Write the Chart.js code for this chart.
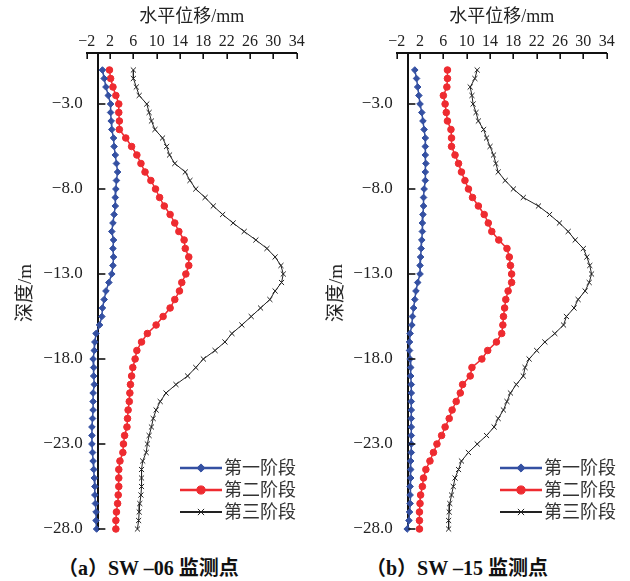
<!DOCTYPE html>
<html><head><meta charset="utf-8">
<script src="https://cdn.jsdelivr.net/npm/chart.js@4.4.0/dist/chart.umd.min.js"></script>
<style>
html,body{margin:0;padding:0;background:#fff;}
#wrap{position:relative;width:630px;height:581px;overflow:hidden;background:#fff;}
.cv{position:absolute;top:0;width:315px;height:545px;}
.ytitle{position:absolute;font-size:19px;font-family:"Liberation Serif","Noto Sans CJK SC",serif;color:#222;transform:translate(-50%,-50%) rotate(-90deg);white-space:nowrap;line-height:20px;}
.cap{position:absolute;top:557px;font-size:20px;font-weight:bold;font-family:"Liberation Serif","Noto Sans CJK SC",serif;color:#111;white-space:nowrap;line-height:22px;}
</style></head><body>
<div id="wrap">
<div class="cv" style="left:0"><canvas id="c1" width="315" height="545"></canvas></div>
<div class="cv" style="left:315px"><canvas id="c2" width="315" height="545"></canvas></div>
<div class="ytitle" style="left:25px;top:293px">深度/m</div>
<div class="ytitle" style="left:336px;top:293px">深度/m</div>
<div class="cap" style="left:58px">（a）SW –06 监测点</div>
<div class="cap" style="left:366px">（b）SW –15 监测点</div>
</div>
<script>
const DEPTH = [-1.0,-1.5,-2.0,-2.5,-3.0,-3.5,-4.0,-4.5,-5.0,-5.5,-6.0,-6.5,-7.0,-7.5,-8.0,-8.5,-9.0,-9.5,-10.0,-10.5,-11.0,-11.5,-12.0,-12.5,-13.0,-13.5,-14.0,-14.5,-15.0,-15.5,-16.0,-16.5,-17.0,-17.5,-18.0,-18.5,-19.0,-19.5,-20.0,-20.5,-21.0,-21.5,-22.0,-22.5,-23.0,-23.5,-24.0,-24.5,-25.0,-25.5,-26.0,-26.5,-27.0,-27.5,-28.0];

const SERIES_NAMES = ['第一阶段','第二阶段','第三阶段'];

// SW-06
const SW06_STAGE1 = [0.7,1.0,1.3,1.7,2.1,2.1,2.2,2.3,2.6,2.7, 2.9,3.1,3.3,3.1,3.0,2.9,2.9,2.7,2.5,2.3, 2.6,2.5,2.6,2.5,2.3,1.8,1.3,1.0,0.7,0.6, 0.2,-0.4,-0.6,-0.7,-0.9,-0.8,-0.8,-0.7,-0.9,-0.9, -0.9,-1.0,-1.1,-1.1,-1.1,-1.0,-0.9,-0.8,-0.7,-0.6, -0.6,-0.5,-0.4,-0.4,-0.3];
const SW06_STAGE2 = [1.9,2.1,2.5,3.0,3.5,3.5,3.6,3.6,4.7,5.7, 6.6,7.3,8.0,9.0,9.8,10.5,11.3,12.3,13.1,13.8, 14.7,14.9,15.5,15.5,15.0,14.3,13.9,13.1,12.3,11.1, 9.9,8.4,7.4,6.6,6.3,5.9,5.7,5.5,5.4,5.3, 5.1,5.0,4.9,4.5,4.3,4.2,3.7,3.5,3.5,3.5, 3.4,3.3,3.1,3.0,3.0];
const SW06_STAGE3 = [6.0,6.0,6.5,7.0,8.3,8.7,9.1,9.7,11.0,11.7, 12.2,13.1,14.9,15.7,16.7,18.3,19.7,21.3,23.1,25.0, 27.0,28.9,30.3,31.3,31.7,31.4,30.3,29.4,27.8,26.2, 24.6,22.9,21.7,20.0,18.0,16.7,15.3,13.3,11.6,10.6, 9.9,9.4,9.1,8.7,8.4,8.2,7.6,7.4,7.4,7.4, 7.3,7.1,7.0,6.9,6.7];

// SW-15
const SW15_STAGE1 = [1.1,1.4,1.6,1.8,2.0,2.3,2.5,2.7,2.9,2.9, 2.9,3.0,2.9,2.9,2.7,2.6,2.6,2.5,2.4,2.4, 2.3,2.2,2.1,2.0,2.0,1.6,1.3,1.1,0.9,0.7, 0.6,0.3,0.2,0.2,0.3,0.4,0.4,0.5,0.5,0.5, 0.5,0.5,0.5,0.5,0.5,0.5,0.4,0.4,0.4,0.3, 0.3,0.3,0.2,0.1,-0.2];
const SW15_STAGE2 = [6.7,6.7,6.6,6.0,6.3,6.5,6.7,7.3,7.4,7.4, 8.0,8.6,9.1,9.7,10.3,11.0,12.0,13.0,13.7,14.3, 15.5,16.9,17.3,17.5,17.7,17.7,17.1,16.7,16.5,16.3, 16.2,16.0,15.1,13.6,12.6,10.9,10.6,9.3,8.9,8.2, 7.5,7.0,6.3,5.7,4.9,4.3,3.7,3.0,2.6,2.4, 2.1,2.0,1.9,1.9,1.9];
const SW15_STAGE3 = [11.8,11.4,10.6,10.9,11.1,11.6,12.0,12.9,13.4,14.0, 14.6,15.0,15.4,16.6,18.0,19.7,22.3,24.2,25.9,27.4, 28.6,30.0,30.6,31.1,31.4,31.0,30.3,29.1,28.4,27.1, 26.6,25.1,23.4,22.0,20.7,20.0,19.7,18.5,17.5,16.9, 16.3,15.4,14.7,13.4,11.8,10.3,9.1,8.6,8.0,7.7, 7.4,7.1,7.0,6.9,6.9];

const X_TICKS = [-2,0,2,6,10,14,18,22,26,30,34];
const Y_TICKS = [-3,-8,-13,-18,-23,-28];
const X_TITLE = '水平位移/mm';

const BLUE = '#3450a2';
const RED = '#ee2b30';
const BLACK = '#222222';
const MINUS = '\u2212';

function pts(vals){ return vals.map((v,i)=>({x:v, y:DEPTH[i]})); }
function fmtX(v){ return v===0 ? '' : (v<0?MINUS:'') + Math.abs(v); }
function fmtY(v){ return (v<0?MINUS:'') + Math.abs(v).toFixed(1); }

function drawMarker(ctx, style, x, y, r, color){
  ctx.save();
  ctx.fillStyle = color; ctx.strokeStyle = color; ctx.lineWidth = 1;
  ctx.beginPath();
  if (style==='rectRot'){
    ctx.moveTo(x, y-r); ctx.lineTo(x+r, y); ctx.lineTo(x, y+r); ctx.lineTo(x-r, y); ctx.closePath();
    ctx.fill(); ctx.stroke();
  } else if (style==='circle'){
    ctx.arc(x, y, r, 0, Math.PI*2); ctx.fill(); ctx.stroke();
  } else {
    const d = r*Math.SQRT1_2;
    ctx.moveTo(x-d, y-d); ctx.lineTo(x+d, y+d); ctx.moveTo(x+d, y-d); ctx.lineTo(x-d, y+d); ctx.stroke();
  }
  ctx.restore();
}

const axisDecor = {
  id: 'axisDecor',
  afterDraw(chart, args, opts){
    const ctx = chart.ctx, xs = chart.scales.x, ys = chart.scales.y, area = chart.chartArea;
    const x0 = xs.getPixelForValue(0);
    ctx.save();
    ctx.strokeStyle = '#111'; ctx.lineWidth = 1.6;
    xs.ticks.forEach(t => {
      const px = Math.round(xs.getPixelForValue(t.value))+0.2;
      ctx.beginPath(); ctx.moveTo(px, area.top); ctx.lineTo(px, area.top + 6); ctx.stroke();
    });
    ys.ticks.forEach(t => {
      const py = Math.round(ys.getPixelForValue(t.value));
      ctx.beginPath(); ctx.moveTo(x0, py); ctx.lineTo(x0 + 7, py); ctx.stroke();
    });
    // legend
    chart.data.datasets.forEach((ds, i) => {
      const y = opts.y0 + i*opts.dy;
      ctx.save();
      ctx.strokeStyle = ds.borderColor; ctx.lineWidth = opts.lw[i];
      ctx.beginPath(); ctx.moveTo(opts.x1, y); ctx.lineTo(opts.x2, y); ctx.stroke();
      ctx.restore();
      drawMarker(ctx, ds.pointStyle, (opts.x1+opts.x2)/2, y, ds.pointRadius + 0.8, ds.borderColor);
      ctx.fillStyle = '#333';
      ctx.font = '18px "Liberation Serif","Noto Sans CJK SC"';
      ctx.textBaseline = 'middle'; ctx.textAlign = 'left';
      ctx.fillText(ds.label, opts.x2 + 2, y + 1);
    });
    ctx.restore();
  }
};

function makeChart(id, s1, s2, s3, pad, leg){
  const yTicks = s => { s.ticks = Y_TICKS.map(v => ({value: v})); };
  return new Chart(document.getElementById(id), {
    type: 'scatter',
    data: { datasets: [
      {label: SERIES_NAMES[0], data: pts(s1), showLine: true, borderColor: BLUE, backgroundColor: BLUE,
       borderWidth: 1.5, pointStyle: 'rectRot', pointRadius: 3.3, pointBorderWidth: 1,
       pointBackgroundColor: BLUE, pointBorderColor: BLUE, tension: 0, clip: false},
      {label: SERIES_NAMES[1], data: pts(s2), showLine: true, borderColor: RED, backgroundColor: RED,
       borderWidth: 1.5, pointStyle: 'circle', pointRadius: 3.3, pointBorderWidth: 1,
       pointBackgroundColor: RED, pointBorderColor: RED, tension: 0, clip: false},
      {label: SERIES_NAMES[2], data: pts(s3), showLine: true, borderColor: BLACK, backgroundColor: BLACK,
       borderWidth: 1, pointStyle: 'crossRot', pointRadius: 3.6, pointBorderWidth: 1,
       pointBorderColor: BLACK, tension: 0, clip: false}
    ]},
    options: {
      responsive: false, animation: false,
      layout: { padding: pad },
      plugins: { legend: {display: false}, tooltip: {enabled: false}, axisDecor: leg },
      scales: {
        x: {
          type: 'linear', position: 'top', min: -2, max: 34,
          afterBuildTicks: s => { s.ticks = X_TICKS.map(v => ({value: v})); },
          afterFit: s => { s.height = 53; },
          grid: {display: false, drawTicks: false},
          border: {display: true, color: '#111', width: 2},
          ticks: {autoSkip: false, maxRotation: 0, padding: 2, color: '#222',
                  font: {family: '"Liberation Serif"', size: 16}, callback: v => fmtX(v)},
          title: {display: true, text: X_TITLE, color: '#222',
                  font: {family: '"Liberation Serif","Noto Sans CJK SC"', size: 18}, padding: {top: 6, bottom: 0}}
        },
        y: {
          type: 'linear', position: {x: 0}, min: -28, max: 0,
          afterBuildTicks: yTicks,
          grid: {display: false, drawTicks: false},
          border: {display: true, color: '#111', width: 2},
          ticks: {display: false}
        },
        yLabels: {
          type: 'linear', position: 'left', min: -28, max: 0,
          afterBuildTicks: yTicks,
          afterFit: s => { s.width = 60; },
          grid: {display: false, drawTicks: false},
          border: {display: false},
          ticks: {autoSkip: false, padding: 4, color: '#222',
                  font: {family: '"Liberation Serif"', size: 17}, callback: v => fmtY(v)}
        }
      }
    },
    plugins: [axisDecor]
  });
}

makeChart('c1', SW06_STAGE1, SW06_STAGE2, SW06_STAGE3,
  {left: 26.7, right: 18.3, top: 0, bottom: 16},
  {x1: 180, x2: 222, y0: 468, dy: 22, lw: [2.5, 2.5, 2]});
makeChart('c2', SW15_STAGE1, SW15_STAGE2, SW15_STAGE3,
  {left: 21.7, right: 23.3, top: 0, bottom: 16},
  {x1: 185, x2: 227, y0: 468, dy: 22, lw: [2.5, 2.5, 2]});
</script>
</body></html>
